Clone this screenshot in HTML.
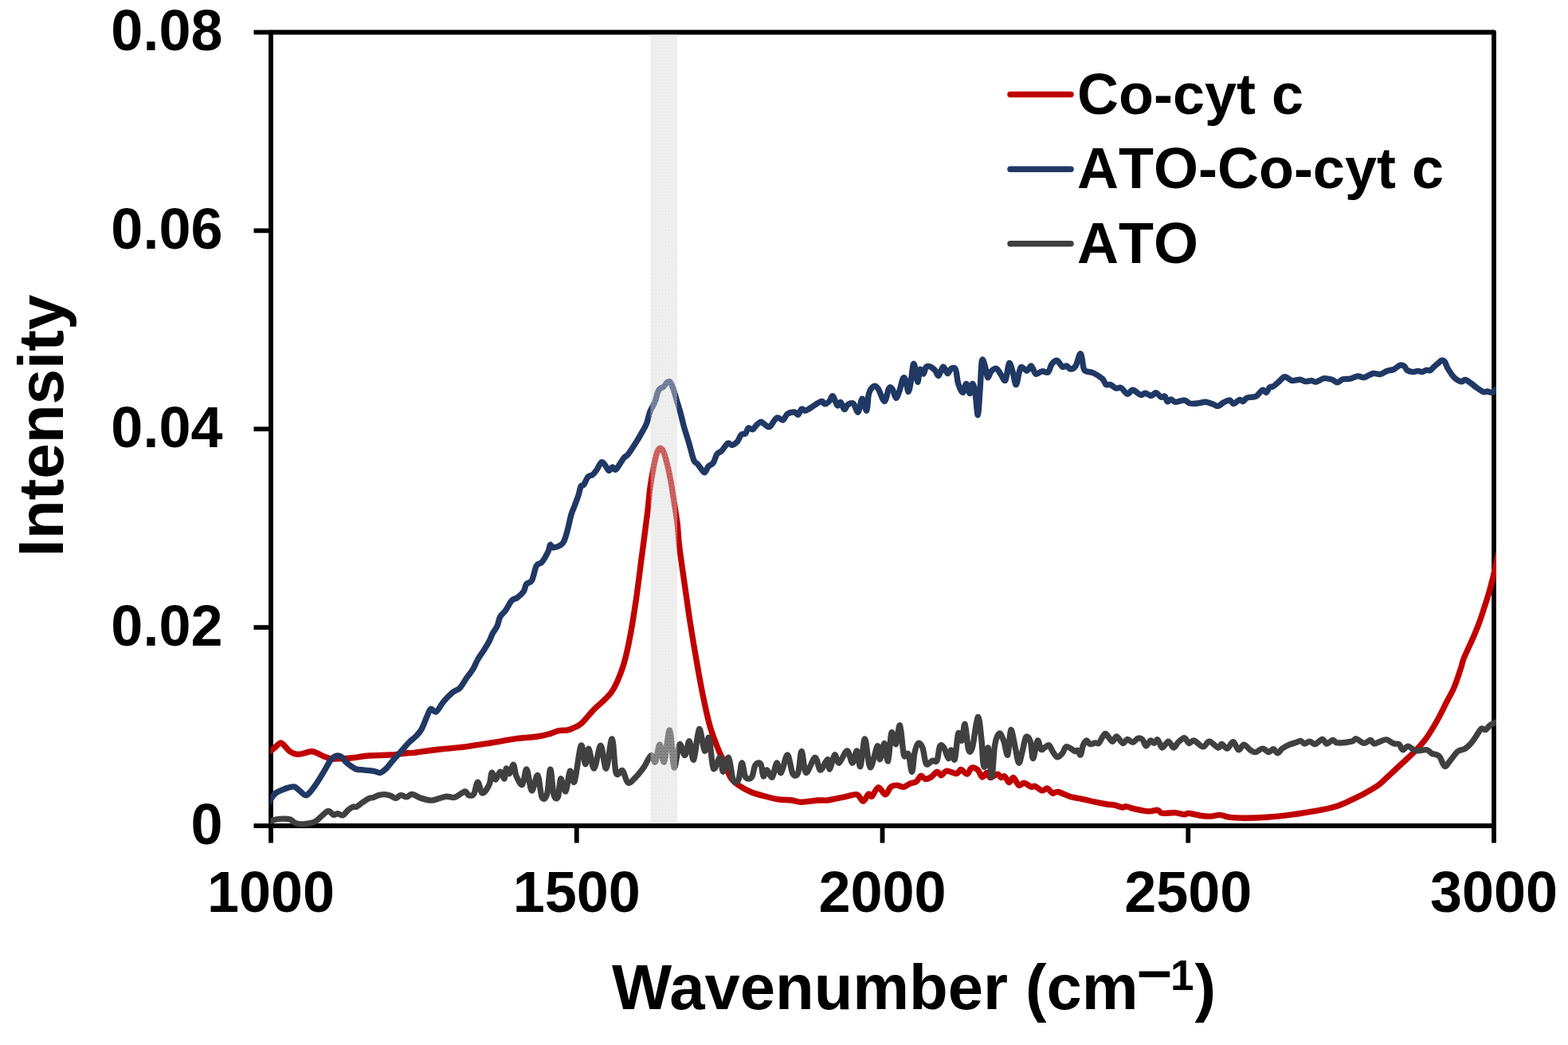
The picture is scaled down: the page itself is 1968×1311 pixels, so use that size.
<!DOCTYPE html><html><head><meta charset="utf-8"><title>Chart</title><style>html,body{margin:0;padding:0;background:#fff;}svg{display:block;}text{font-kerning:none;font-feature-settings:"kern" 0;}</style></head><body>
<svg width="1968" height="1311" viewBox="0 0 1968 1311">
<rect width="1968" height="1311" fill="#fff"/>
<defs><clipPath id="pc"><rect x="339.5" y="37.0" width="1538.5" height="1003.0"/></clipPath>
<pattern id="dots" width="4" height="4" patternUnits="userSpaceOnUse"><path d="M0 0H4V4H0ZM1 2H2V3H1Z" fill-rule="evenodd" fill="#d9d9d9" fill-opacity="0.30"/><path d="M0 0h1v1h-1zM2 0h1v1h-1zM1 1h1v1h-1zM3 1h1v1h-1zM0 2h1v1h-1zM2 2h1v1h-1zM1 3h1v1h-1zM3 3h1v1h-1z" fill="#d9d9d9" fill-opacity="0.46"/></pattern></defs>
<g fill="none" stroke="#000" stroke-width="5.80" stroke-linejoin="round">
<path d="M340.0 40.5 H1875.0 V1036.0 H340.0 Z"/>
<path d="M318.5 1036.00 H340.0" stroke-linecap="butt"/>
<path d="M318.5 787.12 H340.0" stroke-linecap="butt"/>
<path d="M318.5 538.25 H340.0" stroke-linecap="butt"/>
<path d="M318.5 289.38 H340.0" stroke-linecap="butt"/>
<path d="M318.5 40.50 H340.0" stroke-linecap="butt"/>
<path d="M340.00 1036.0 V1057.5" stroke-linecap="butt"/>
<path d="M723.75 1036.0 V1057.5" stroke-linecap="butt"/>
<path d="M1107.50 1036.0 V1057.5" stroke-linecap="butt"/>
<path d="M1491.25 1036.0 V1057.5" stroke-linecap="butt"/>
<path d="M1875.00 1036.0 V1057.5" stroke-linecap="butt"/>
</g>
<g fill="none" stroke-width="7.40" stroke-linejoin="round" stroke-linecap="round" clip-path="url(#pc)">
<path stroke="#C00000" d="M339.6 942.2C340.5 941.5 342.9 939.6 345.0 937.9C347.1 936.2 349.9 932.5 351.9 932.0C353.8 931.5 354.8 933.5 356.7 935.2C358.6 936.9 360.8 940.4 363.1 942.2C365.4 944.0 368.1 945.3 370.6 945.9C373.1 946.5 375.5 946.2 378.0 945.9C380.5 945.5 383.2 944.3 385.5 943.8C387.8 943.3 389.8 942.5 391.9 942.7C394.0 942.9 395.8 943.7 398.3 944.8C400.8 945.9 404.0 947.9 406.9 949.1C409.8 950.3 412.2 951.3 415.4 951.8C418.6 952.2 421.7 952.0 426.1 951.8C430.6 951.6 435.9 951.3 442.1 950.7C448.3 950.1 455.5 948.6 463.5 948.0C471.5 947.4 482.2 947.5 490.2 947.0C498.2 946.5 506.5 945.2 511.5 944.8C516.5 944.3 513.2 945.1 520.0 944.3C526.8 943.5 541.3 941.2 552.0 940.0C562.7 938.8 573.4 938.1 584.1 936.8C594.8 935.5 605.4 933.7 616.1 932.0C626.8 930.3 638.3 928.0 648.1 926.7C657.9 925.4 667.7 925.1 674.8 924.0C681.9 922.9 686.3 921.5 690.8 920.3C695.2 919.1 697.9 917.3 701.5 916.6C705.1 915.9 709.3 916.5 712.2 916.0C715.1 915.5 716.2 914.8 719.0 913.5C721.8 912.2 724.8 911.9 729.2 908.0C733.7 904.1 739.3 896.6 745.7 889.9C752.1 883.2 761.8 876.7 767.7 868.0C773.7 859.3 777.8 848.2 781.4 837.7C785.0 827.2 786.9 818.5 789.6 804.8C792.4 791.1 795.4 772.3 797.9 755.4C800.4 738.5 802.8 718.8 804.8 703.2C806.8 687.6 808.8 672.5 810.2 662.0C811.6 651.5 812.0 648.2 813.0 640.0C814.0 631.8 814.6 621.8 815.9 612.6C817.1 603.5 819.0 592.7 820.5 585.1C822.0 577.5 823.7 570.6 825.1 566.8C826.5 563.0 827.6 562.2 828.9 562.2C830.2 562.2 831.3 563.5 832.7 566.8C834.1 570.1 835.8 575.9 837.3 582.0C838.8 588.1 840.4 595.0 841.9 603.4C843.4 611.8 845.1 623.2 846.5 632.4C847.9 641.5 849.2 649.2 850.3 658.3C851.3 667.3 851.2 673.7 852.8 686.7C854.4 699.7 857.4 720.1 859.7 736.1C862.0 752.1 864.0 766.8 866.5 782.8C869.0 798.8 872.0 816.7 874.8 832.3C877.5 847.9 880.2 862.9 883.0 876.2C885.8 889.5 888.1 900.9 891.3 911.9C894.5 922.9 899.2 934.4 902.3 942.1C905.4 949.8 907.6 952.5 910.0 958.0C912.4 963.5 913.9 970.5 916.7 975.0C919.5 979.5 922.3 981.8 926.8 985.0C931.3 988.2 937.9 991.7 943.5 994.0C949.1 996.3 954.7 997.5 960.3 999.0C965.9 1000.5 971.5 1002.1 977.1 1002.9C982.7 1003.7 989.1 1003.4 993.8 1004.0C998.4 1004.6 1001.3 1006.1 1005.0 1006.3C1008.7 1006.5 1012.5 1005.5 1016.2 1005.1C1019.9 1004.7 1023.7 1004.2 1027.4 1004.0C1031.1 1003.8 1034.9 1004.4 1038.6 1004.0C1042.3 1003.6 1046.0 1002.5 1049.7 1001.8C1053.4 1001.1 1056.6 1000.4 1060.9 999.6C1065.2 998.8 1071.8 995.9 1075.5 996.8C1079.2 997.7 1080.9 1005.2 1083.3 1005.1C1085.7 1005.0 1088.1 997.2 1090.0 996.2C1091.9 995.2 1092.5 1000.4 1094.5 999.0C1096.5 997.6 1099.5 988.2 1102.3 987.8C1105.1 987.4 1108.6 996.9 1111.2 996.8C1113.8 996.7 1115.5 989.2 1117.9 987.3C1120.3 985.3 1122.8 985.1 1125.6 985.1C1128.4 985.1 1131.7 987.7 1134.5 987.3C1137.3 986.9 1139.8 984.0 1142.4 982.9C1145.0 981.8 1148.0 982.2 1150.2 980.6C1152.4 979.0 1153.9 973.8 1155.8 973.3C1157.7 972.8 1159.2 977.1 1161.4 977.3C1163.6 977.5 1166.8 976.0 1169.2 974.5C1171.6 973.0 1173.9 968.6 1175.9 968.3C1178.0 968.0 1179.5 973.0 1181.5 972.8C1183.5 972.6 1185.0 967.6 1188.2 967.2C1191.4 966.8 1197.5 970.9 1200.5 970.6C1203.5 970.3 1203.9 965.4 1206.1 965.5C1208.3 965.6 1211.7 971.5 1213.9 971.1C1216.1 970.7 1217.3 964.1 1219.5 963.3C1221.7 962.5 1225.1 964.1 1227.3 966.1C1229.5 968.1 1231.0 974.5 1232.9 975.0C1234.8 975.5 1236.8 969.3 1238.5 969.4C1240.2 969.5 1240.8 975.3 1243.0 975.6C1245.2 975.9 1249.7 971.1 1251.9 971.1C1254.1 971.1 1254.9 975.1 1256.4 975.6C1257.9 976.1 1259.2 972.9 1260.9 973.9C1262.6 974.9 1264.7 981.4 1266.5 981.7C1268.3 982.0 1270.0 975.0 1272.0 975.6C1274.0 976.2 1276.5 984.0 1278.7 985.1C1281.0 986.2 1282.9 981.9 1285.5 982.3C1288.1 982.7 1292.2 986.6 1294.4 987.3C1296.6 987.9 1296.7 985.5 1298.9 986.2C1301.1 987.0 1305.2 991.3 1307.8 991.8C1310.4 992.3 1312.3 988.5 1314.5 989.0C1316.7 989.5 1319.0 994.4 1321.2 995.1C1323.4 995.9 1324.2 992.8 1327.9 993.5C1331.6 994.2 1338.4 998.0 1343.4 999.5C1348.4 1001.0 1352.7 1001.2 1357.9 1002.3C1363.1 1003.4 1369.5 1005.1 1374.7 1006.2C1379.9 1007.3 1385.2 1008.4 1389.3 1009.0C1393.4 1009.6 1396.1 1009.5 1399.3 1010.1C1402.5 1010.8 1405.9 1012.6 1408.3 1012.9C1410.7 1013.2 1411.0 1011.4 1413.8 1011.8C1416.6 1012.2 1420.3 1014.1 1425.0 1015.1C1429.7 1016.1 1437.1 1017.7 1441.8 1017.9C1446.5 1018.1 1450.2 1015.9 1453.0 1016.3C1455.8 1016.7 1454.9 1019.7 1458.6 1020.2C1462.3 1020.8 1470.6 1019.3 1475.3 1019.6C1480.0 1019.9 1483.7 1021.8 1486.5 1021.9C1489.3 1022.0 1488.4 1019.9 1492.1 1020.2C1495.8 1020.5 1504.2 1022.9 1508.9 1023.5C1513.6 1024.2 1516.3 1024.3 1520.0 1024.1C1523.7 1023.9 1527.5 1022.2 1531.2 1022.4C1534.9 1022.6 1537.2 1024.5 1542.4 1025.2C1547.6 1025.9 1554.4 1026.3 1562.4 1026.3C1570.4 1026.3 1581.0 1025.9 1590.3 1025.2C1599.6 1024.5 1609.9 1023.4 1618.3 1022.4C1626.7 1021.4 1633.1 1020.3 1640.6 1019.1C1648.0 1017.9 1656.5 1016.5 1663.0 1015.1C1669.5 1013.7 1674.1 1012.7 1679.7 1010.7C1685.3 1008.8 1690.9 1006.0 1696.5 1003.4C1702.1 1000.8 1707.7 998.1 1713.3 995.0C1718.9 991.9 1725.5 988.1 1730.0 985.0C1734.5 981.9 1735.3 980.4 1740.0 976.1C1744.7 971.8 1752.2 964.7 1758.3 959.0C1764.4 953.3 1771.3 947.3 1776.6 941.8C1781.9 936.3 1785.7 932.2 1790.3 925.8C1794.9 919.4 1799.9 910.8 1804.0 903.5C1808.1 896.2 1811.5 888.9 1815.0 882.0C1818.5 875.1 1822.1 869.5 1825.2 862.1C1828.3 854.7 1831.7 843.8 1833.7 837.7C1835.7 831.6 1834.8 832.0 1837.4 825.5C1840.1 819.0 1846.3 806.1 1849.6 798.6C1852.8 791.1 1854.7 786.4 1856.9 780.3C1859.1 774.2 1861.0 768.3 1863.0 762.0C1865.0 755.7 1867.3 748.7 1869.1 742.4C1870.9 736.1 1872.5 730.1 1874.0 724.0C1875.5 717.9 1876.7 711.8 1878.0 706.0C1879.3 700.2 1881.3 691.8 1882.0 689.0"/>
<path stroke="#203864" d="M336.0 1010.0C336.6 1008.8 337.9 1005.5 339.6 1003.0C341.3 1000.5 343.5 997.0 346.0 995.0C348.5 993.0 351.9 991.9 354.6 990.8C357.3 989.6 359.5 988.7 362.0 988.1C364.5 987.5 367.4 986.5 369.5 987.0C371.6 987.5 372.5 989.0 374.8 990.8C377.1 992.6 380.9 997.4 383.4 997.7C385.9 998.1 387.3 995.6 389.8 992.9C392.3 990.1 395.5 985.5 398.3 981.2C401.1 976.9 404.2 971.8 406.9 967.3C409.6 962.8 412.1 957.6 414.4 954.5C416.7 951.4 418.5 949.5 420.8 948.6C423.1 947.7 425.9 947.8 428.2 949.1C430.5 950.4 431.8 954.1 434.6 956.6C437.5 959.1 442.3 962.6 445.3 964.1C448.3 965.6 448.9 965.2 452.8 965.7C456.7 966.2 464.7 966.7 468.8 967.3C472.9 967.9 474.7 969.9 477.4 969.4C480.1 968.9 481.8 967.1 484.8 964.1C487.8 961.1 491.9 955.4 495.5 951.3C499.1 947.2 503.2 942.9 506.2 939.5C509.2 936.1 511.0 933.7 513.7 931.0C516.4 928.3 519.6 926.2 522.2 923.5C524.8 920.8 526.9 918.8 529.2 914.6C531.5 910.5 534.1 902.8 536.0 898.6C537.9 894.4 538.7 890.4 540.6 889.4C542.5 888.4 544.8 894.4 547.5 892.9C550.2 891.4 553.2 884.3 556.6 880.3C560.0 876.3 564.6 871.7 568.0 868.8C571.4 865.9 574.1 866.3 577.2 863.1C580.3 859.9 583.7 853.2 586.4 849.4C589.1 845.6 590.9 844.0 593.2 840.2C595.5 836.4 597.8 830.5 600.1 826.5C602.4 822.5 604.7 819.8 607.0 816.2C609.3 812.6 611.9 808.4 613.8 804.8C615.7 801.2 616.7 797.8 618.4 794.5C620.1 791.2 622.6 788.7 624.1 785.3C625.6 781.9 625.9 777.1 627.6 773.9C629.3 770.7 631.9 769.3 634.4 765.9C636.9 762.5 639.9 756.0 642.4 753.3C644.9 750.6 646.8 751.7 649.3 749.8C651.8 747.9 655.4 744.6 657.3 741.8C659.2 738.9 659.0 735.0 660.7 732.7C662.4 730.4 665.5 731.9 667.6 728.1C669.7 724.3 671.2 713.6 673.3 709.8C675.4 706.0 677.7 708.2 680.2 705.2C682.7 702.2 686.5 695.1 688.2 691.5C689.9 687.9 689.4 684.3 690.5 683.5C691.6 682.7 692.4 687.3 695.1 686.9C697.8 686.5 703.6 684.8 706.5 681.2C709.4 677.6 710.5 671.1 712.2 665.2C713.9 659.4 715.3 651.3 716.8 646.1C718.3 640.9 719.9 638.0 721.4 633.9C722.9 629.8 724.6 625.6 725.9 621.7C727.2 617.8 727.9 612.6 729.0 610.3C730.1 608.0 731.3 610.0 732.8 608.0C734.3 606.0 736.3 600.1 738.1 598.1C739.9 596.1 741.7 597.2 743.5 595.8C745.3 594.4 746.9 592.4 748.8 589.7C750.7 587.0 753.1 580.8 754.9 579.8C756.7 578.8 758.0 581.8 759.5 583.6C761.0 585.4 762.6 590.0 764.1 590.4C765.6 590.8 767.1 586.1 768.6 585.9C770.1 585.6 770.9 590.7 773.2 588.9C775.5 587.1 779.9 578.4 782.4 575.2C784.9 572.0 786.0 573.0 788.5 569.8C791.0 566.6 794.8 560.5 797.6 556.1C800.4 551.7 803.0 547.2 805.3 543.1C807.6 539.0 809.6 536.2 811.4 531.7C813.2 527.2 814.1 521.0 815.9 516.4C817.7 511.8 820.2 508.6 822.0 504.2C823.8 499.8 824.8 492.9 826.6 489.7C828.4 486.5 830.9 486.8 832.7 485.2C834.5 483.6 835.9 480.8 837.3 479.8C838.7 478.8 839.8 477.8 841.1 479.1C842.4 480.4 843.5 483.6 844.9 487.5C846.3 491.4 848.0 497.6 849.5 502.7C851.0 507.8 852.6 512.4 854.1 518.0C855.6 523.6 856.9 529.9 858.7 536.3C860.5 542.6 862.8 549.2 864.8 556.1C866.8 563.0 869.1 573.2 870.9 577.5C872.7 581.8 873.9 580.2 875.4 582.0C876.9 583.8 878.5 586.3 880.0 588.1C881.5 589.9 883.1 593.2 884.6 592.7C886.1 592.2 887.4 587.1 889.2 585.1C891.0 583.1 893.5 583.0 895.3 580.5C897.1 578.0 898.0 572.3 899.8 569.8C901.6 567.3 903.6 567.6 905.9 565.3C908.2 563.0 911.4 557.3 913.6 556.1C915.8 554.9 916.9 558.7 918.9 558.3C920.9 557.9 923.8 555.9 925.7 553.8C927.6 551.7 928.4 547.2 930.1 545.5C931.8 543.8 934.2 545.2 935.7 543.8C937.2 542.4 937.6 537.9 939.1 537.1C940.6 536.3 943.0 539.4 944.7 538.8C946.4 538.2 947.4 535.3 949.1 533.7C950.8 532.1 953.0 529.6 954.7 529.3C956.4 529.0 957.3 531.0 959.2 532.0C961.1 533.0 963.3 536.7 965.9 535.4C968.5 534.1 972.0 525.6 974.8 524.2C977.6 522.8 980.5 527.8 982.7 527.0C985.0 526.2 985.9 520.9 988.3 519.2C990.7 517.5 995.0 516.8 997.2 517.0C999.4 517.2 1000.2 521.0 1001.7 520.3C1003.2 519.6 1004.6 513.8 1006.1 513.0C1007.6 512.2 1008.9 515.4 1010.6 515.3C1012.3 515.2 1013.6 514.1 1016.2 512.5C1018.8 510.9 1023.7 507.3 1026.3 505.8C1028.9 504.3 1030.4 503.3 1031.9 503.5C1033.4 503.7 1033.7 506.9 1035.2 506.9C1036.7 506.9 1039.1 505.2 1040.8 503.5C1042.5 501.8 1043.6 495.9 1045.3 496.8C1047.0 497.7 1049.2 507.3 1050.9 508.6C1052.6 509.9 1053.8 503.9 1055.3 504.7C1056.8 505.5 1058.3 513.1 1059.8 513.6C1061.3 514.1 1062.4 508.7 1064.3 507.5C1066.2 506.3 1068.9 504.7 1071.0 506.3C1073.1 507.9 1075.2 518.0 1077.1 517.0C1079.0 516.0 1080.4 500.5 1082.2 500.2C1084.0 499.9 1086.4 516.3 1087.8 515.3C1089.2 514.3 1089.0 499.1 1090.5 494.0C1092.0 488.9 1094.7 485.5 1096.7 484.5C1098.7 483.5 1100.1 484.7 1102.3 487.9C1104.5 491.1 1107.9 503.6 1110.1 503.5C1112.3 503.4 1114.0 489.9 1115.7 487.3C1117.4 484.7 1118.5 486.1 1120.0 488.1C1121.5 490.1 1123.0 498.9 1124.5 499.3C1126.0 499.7 1127.4 494.5 1128.9 490.4C1130.4 486.3 1132.1 476.9 1133.4 474.7C1134.7 472.5 1135.7 474.2 1136.8 477.0C1137.9 479.8 1139.0 491.5 1140.1 491.5C1141.2 491.5 1142.5 482.8 1143.5 477.0C1144.5 471.2 1145.4 459.1 1146.3 456.8C1147.2 454.6 1148.2 459.8 1149.1 463.5C1150.0 467.2 1151.0 479.2 1151.9 479.2C1152.8 479.2 1153.5 465.2 1154.7 463.5C1155.9 461.8 1157.8 469.7 1159.1 469.1C1160.4 468.6 1161.0 461.7 1162.5 460.2C1164.0 458.7 1166.2 459.4 1168.1 460.2C1170.0 460.9 1172.0 462.8 1173.7 464.7C1175.4 466.6 1176.4 472.1 1178.1 471.4C1179.8 470.6 1181.8 460.7 1183.7 460.2C1185.6 459.7 1187.6 468.2 1189.3 468.6C1191.0 469.0 1192.1 463.2 1193.8 462.4C1195.5 461.5 1197.9 460.3 1199.4 463.5C1200.9 466.7 1201.2 476.5 1202.7 481.4C1204.2 486.2 1206.6 492.6 1208.3 492.6C1210.0 492.6 1211.3 481.2 1212.8 481.4C1214.3 481.6 1216.0 493.7 1217.3 493.7C1218.6 493.7 1219.5 481.6 1220.6 481.4C1221.7 481.2 1222.9 486.1 1224.0 492.6C1225.1 499.1 1226.3 521.4 1227.3 520.6C1228.3 519.9 1229.2 499.5 1230.1 488.1C1230.9 476.7 1231.4 457.2 1232.4 452.4C1233.4 447.6 1235.1 455.6 1236.3 459.1C1237.5 462.6 1238.3 472.5 1239.6 473.6C1240.9 474.7 1242.2 467.7 1244.1 465.8C1246.0 463.9 1248.8 461.7 1250.8 462.4C1252.8 463.1 1254.5 467.8 1256.4 470.2C1258.3 472.6 1260.3 479.4 1262.0 477.0C1263.7 474.6 1265.0 457.6 1266.5 455.7C1268.0 453.8 1269.4 461.3 1270.9 465.8C1272.4 470.3 1273.7 483.2 1275.4 482.5C1277.1 481.8 1278.8 464.2 1281.0 461.3C1283.2 458.4 1286.6 465.6 1288.8 465.2C1291.0 464.8 1292.5 458.5 1294.4 459.1C1296.3 459.8 1297.8 468.0 1300.0 469.1C1302.2 470.2 1305.2 466.2 1307.8 465.8C1310.4 465.4 1313.5 468.4 1315.6 466.9C1317.6 465.4 1318.2 459.2 1320.1 456.8C1322.0 454.4 1324.6 451.8 1326.8 452.4C1329.0 453.0 1331.4 459.1 1333.4 460.2C1335.4 461.3 1337.2 458.6 1338.9 459.1C1340.6 459.6 1341.5 463.0 1343.4 463.0C1345.3 463.0 1348.0 462.3 1350.1 459.1C1352.2 455.9 1354.5 443.2 1356.2 443.8C1357.9 444.4 1359.0 458.7 1360.2 462.4C1361.4 466.1 1361.5 464.9 1363.5 465.8C1365.5 466.7 1369.1 466.4 1372.5 468.0C1375.9 469.6 1381.1 472.9 1383.7 475.3C1386.3 477.7 1386.4 481.3 1388.1 482.5C1389.8 483.7 1391.7 481.8 1393.7 482.5C1395.8 483.2 1398.2 486.3 1400.4 487.0C1402.6 487.7 1404.7 485.3 1407.1 486.5C1409.5 487.7 1412.6 493.8 1415.0 494.3C1417.4 494.8 1418.9 489.1 1421.7 489.3C1424.5 489.5 1429.1 494.8 1431.7 495.4C1434.3 496.0 1435.1 493.0 1437.3 493.2C1439.5 493.4 1442.9 496.6 1445.1 496.5C1447.3 496.4 1448.7 492.3 1450.7 492.6C1452.8 492.9 1455.5 497.4 1457.4 498.2C1459.3 498.9 1460.6 496.2 1461.9 497.1C1463.2 498.0 1464.0 503.2 1465.3 503.8C1466.6 504.4 1468.0 500.9 1469.7 501.0C1471.4 501.1 1472.5 504.1 1475.3 504.3C1478.1 504.5 1483.5 501.8 1486.5 502.1C1489.5 502.4 1490.4 505.4 1493.2 506.0C1496.0 506.6 1500.0 506.3 1503.3 506.0C1506.6 505.7 1510.1 504.1 1513.3 504.3C1516.5 504.5 1519.7 506.2 1522.3 507.1C1524.9 508.0 1526.8 509.8 1529.0 509.4C1531.2 509.0 1533.3 506.1 1535.7 504.9C1538.1 503.7 1541.3 501.7 1543.4 502.0C1545.5 502.3 1546.4 506.6 1548.4 506.5C1550.5 506.4 1553.8 502.0 1555.7 501.5C1557.7 501.0 1558.6 504.1 1560.1 503.7C1561.6 503.3 1562.7 500.2 1564.6 499.3C1566.5 498.4 1569.2 498.5 1571.3 498.1C1573.3 497.7 1574.7 498.5 1576.9 497.0C1579.1 495.5 1582.7 489.9 1584.7 489.2C1586.8 488.4 1587.7 493.1 1589.2 492.5C1590.7 491.9 1592.2 487.1 1593.7 485.8C1595.2 484.5 1596.2 485.8 1598.1 484.7C1599.9 483.6 1602.6 481.1 1604.8 479.1C1607.0 477.2 1609.6 473.8 1611.5 473.0C1613.4 472.2 1614.3 473.4 1616.0 474.1C1617.7 474.9 1619.0 477.1 1621.6 477.5C1624.2 477.9 1628.9 476.1 1631.7 476.3C1634.5 476.5 1636.0 478.4 1638.4 478.6C1640.8 478.8 1644.0 477.4 1646.2 477.5C1648.4 477.6 1649.2 479.6 1651.8 479.1C1654.4 478.6 1658.6 475.2 1661.9 474.7C1665.2 474.2 1669.1 475.5 1671.9 476.3C1674.7 477.1 1676.4 479.8 1678.6 479.7C1680.8 479.6 1682.7 476.6 1685.3 475.8C1687.9 475.1 1691.1 475.9 1694.3 475.2C1697.5 474.5 1701.3 472.2 1704.3 471.9C1707.3 471.6 1709.0 474.1 1712.2 473.5C1715.4 472.9 1720.0 469.1 1723.3 468.5C1726.6 467.9 1729.3 470.2 1732.3 469.6C1735.3 469.1 1738.4 466.2 1741.2 465.2C1744.0 464.2 1746.4 464.7 1749.1 463.5C1751.8 462.3 1755.2 458.8 1757.5 458.2C1759.8 457.6 1761.5 458.7 1762.9 459.7C1764.3 460.7 1764.1 463.1 1765.9 464.3C1767.7 465.5 1771.2 466.4 1773.5 466.6C1775.8 466.8 1777.7 465.4 1779.6 465.4C1781.5 465.4 1783.2 466.8 1785.0 466.6C1786.8 466.4 1788.6 464.6 1790.3 464.3C1792.0 464.0 1793.2 465.5 1794.9 464.7C1796.6 463.9 1798.6 461.2 1800.2 459.7C1801.8 458.2 1803.3 457.2 1804.8 455.9C1806.3 454.6 1808.0 452.5 1809.4 452.1C1810.8 451.7 1811.9 452.0 1813.2 453.6C1814.5 455.2 1815.3 459.1 1817.0 462.0C1818.7 464.9 1821.3 468.9 1823.1 471.2C1824.9 473.5 1825.8 474.4 1827.7 475.7C1829.6 477.0 1832.6 478.7 1834.5 478.8C1836.4 478.9 1837.1 476.1 1839.1 476.5C1841.1 476.9 1844.4 479.5 1846.7 481.1C1849.0 482.7 1850.2 484.2 1852.8 486.0C1855.3 487.8 1859.7 490.9 1862.0 491.7C1864.3 492.5 1864.7 490.9 1866.5 491.0C1868.3 491.1 1870.9 492.8 1872.6 492.5C1874.2 492.2 1875.2 490.4 1876.4 489.5C1877.6 488.6 1879.4 487.4 1880.0 487.0"/>
<path stroke="#404040" d="M339.6 1030.3C340.7 1029.9 343.3 1028.6 346.0 1028.1C348.7 1027.6 352.6 1027.1 355.6 1027.1C358.6 1027.1 361.7 1027.2 364.2 1028.1C366.7 1029.0 368.1 1031.4 370.6 1032.4C373.1 1033.4 376.2 1033.9 379.1 1034.0C382.0 1034.1 384.9 1033.5 387.7 1032.9C390.5 1032.3 393.4 1032.0 396.2 1030.3C399.0 1028.6 402.0 1024.9 404.7 1022.8C407.4 1020.7 409.9 1017.6 412.2 1017.5C414.5 1017.4 416.6 1021.8 418.6 1022.3C420.6 1022.8 422.0 1020.6 424.0 1020.7C426.0 1020.8 428.3 1023.5 430.4 1022.8C432.5 1022.1 434.7 1018.2 436.8 1016.4C438.9 1014.6 441.4 1012.8 443.2 1012.1C445.0 1011.4 445.6 1013.0 447.5 1012.1C449.4 1011.2 452.4 1008.5 454.9 1006.8C457.4 1005.1 460.1 1003.1 462.4 1002.0C464.7 1000.9 466.7 1001.1 468.8 1000.4C470.9 999.7 472.9 998.3 475.2 997.7C477.5 997.1 480.2 996.5 482.7 996.6C485.2 996.7 487.9 997.4 490.2 998.2C492.5 999.0 494.5 1001.5 496.6 1001.4C498.7 1001.3 500.7 998.0 503.0 997.7C505.3 997.4 508.4 1000.0 510.5 999.8C512.6 999.6 514.2 997.0 515.8 996.6C517.4 996.2 517.9 996.4 520.0 997.2C522.1 998.0 524.9 1000.2 528.5 1001.4C532.1 1002.5 537.5 1004.1 541.4 1004.1C545.3 1004.1 548.8 1002.2 552.0 1001.4C555.2 1000.6 557.6 999.5 560.6 999.3C563.6 999.1 567.4 1000.9 570.2 1000.4C573.1 999.9 575.4 997.4 577.7 996.1C580.0 994.9 582.3 992.6 584.1 992.9C585.9 993.2 586.5 997.2 588.3 997.7C590.1 998.2 592.8 998.9 594.7 996.1C596.6 993.4 597.8 981.4 599.6 981.2C601.4 981.0 603.0 994.5 605.4 995.0C607.8 995.5 612.0 988.7 614.0 984.4C616.0 980.1 615.9 970.5 617.2 969.4C618.5 968.3 620.2 978.2 622.0 978.0C623.8 977.8 625.9 968.5 627.8 968.3C629.7 968.1 632.0 977.6 633.2 976.9C634.5 976.2 634.2 965.2 635.3 964.1C636.4 963.0 638.1 971.3 639.6 970.5C641.1 969.7 643.0 958.8 644.4 959.3C645.8 959.8 646.2 969.5 648.1 973.7C650.0 977.9 653.5 985.8 655.6 984.4C657.8 983.0 659.0 963.9 661.0 965.1C663.0 966.3 665.1 990.5 667.4 991.8C669.7 993.0 672.7 971.2 674.8 972.6C676.9 974.0 678.2 996.5 680.2 1000.4C682.2 1004.3 684.8 1002.0 686.6 996.1C688.4 990.2 689.4 964.9 690.8 965.1C692.2 965.3 693.5 991.5 695.1 997.2C696.7 1002.9 699.1 1002.7 700.5 999.3C701.9 995.9 702.1 978.0 703.7 976.9C705.3 975.8 708.2 994.5 710.1 992.9C712.0 991.3 713.6 969.3 715.4 967.3C717.2 965.2 718.7 985.9 721.0 980.6C723.3 975.3 726.9 939.0 729.2 935.3C731.5 931.6 733.1 957.9 734.7 958.6C736.3 959.3 737.0 938.5 738.8 939.4C740.6 940.3 743.2 964.8 745.7 964.1C748.2 963.4 751.4 935.3 753.9 935.3C756.4 935.3 758.4 965.5 760.8 964.1C763.2 962.7 766.1 926.1 768.2 927.0C770.3 927.9 771.0 963.0 773.2 969.6C775.4 976.2 778.9 964.7 781.4 966.8C783.9 968.9 785.5 980.6 788.3 982.0C791.0 983.4 794.5 978.6 797.9 975.1C801.3 971.6 805.7 965.9 808.9 961.3C812.1 956.7 814.8 948.5 817.1 947.6C819.4 946.7 820.8 958.1 822.6 955.8C824.4 953.5 826.3 933.9 828.1 933.9C829.9 933.9 831.5 958.8 833.6 955.8C835.7 952.8 838.4 914.9 840.5 916.0C842.6 917.1 844.0 959.7 846.0 962.7C848.0 965.7 850.5 936.4 852.8 933.9C855.1 931.4 857.6 948.3 859.7 947.6C861.8 946.9 863.4 928.9 865.2 929.8C867.0 930.7 868.7 955.6 870.7 953.1C872.8 950.6 875.2 916.4 877.5 914.6C879.8 912.8 882.3 940.3 884.4 942.1C886.5 943.9 888.1 921.9 889.9 925.6C891.7 929.3 893.1 960.0 895.4 964.1C897.7 968.2 901.5 949.6 903.6 950.3C905.7 951.0 905.9 968.2 907.7 968.2C909.5 968.2 912.4 948.7 914.5 950.4C916.6 952.1 918.1 973.6 920.1 978.3C922.1 982.9 924.9 981.8 926.8 978.3C928.6 974.8 929.7 957.6 931.2 957.1C932.7 956.6 933.7 972.0 935.7 975.0C937.8 978.0 941.5 977.5 943.5 975.0C945.5 972.5 946.1 962.7 948.0 959.9C949.9 957.1 953.0 955.9 954.7 958.2C956.4 960.5 956.8 972.5 958.1 973.8C959.4 975.1 960.6 965.8 962.5 966.0C964.4 966.2 967.2 976.5 969.3 975.0C971.3 973.5 972.9 958.0 974.8 957.1C976.6 956.2 978.1 971.1 980.4 969.4C982.6 967.7 985.9 946.8 988.3 947.0C990.7 947.2 992.8 966.8 995.0 970.5C997.2 974.2 999.9 974.1 1001.7 969.4C1003.6 964.7 1004.4 942.5 1006.1 942.5C1007.8 942.5 1008.9 968.1 1011.7 969.4C1014.5 970.7 1019.9 951.0 1022.9 950.4C1025.9 949.8 1027.0 965.6 1029.6 966.0C1032.2 966.4 1036.6 952.8 1038.6 952.6C1040.6 952.4 1039.9 965.8 1041.4 964.9C1042.9 964.0 1045.5 948.3 1047.5 947.0C1049.5 945.7 1050.5 957.9 1053.1 957.1C1055.7 956.3 1060.4 942.0 1063.2 942.0C1066.0 942.0 1067.9 957.1 1069.9 957.1C1072.0 957.1 1073.8 941.3 1075.5 942.0C1077.2 942.7 1078.2 964.0 1079.9 961.5C1081.6 959.0 1083.5 926.7 1085.5 926.9C1087.5 927.1 1089.6 961.2 1092.2 962.7C1094.8 964.2 1099.2 937.5 1101.2 935.8C1103.2 934.1 1103.0 953.1 1104.5 952.6C1106.0 952.1 1108.4 932.1 1110.1 932.5C1111.8 932.9 1113.1 957.0 1114.6 954.8C1116.1 952.6 1117.3 922.6 1119.0 919.1C1120.7 915.6 1122.8 935.1 1124.6 933.6C1126.3 932.1 1127.8 907.8 1129.5 910.0C1131.2 912.2 1132.7 941.1 1134.5 947.1C1136.3 953.1 1138.4 942.5 1140.1 946.0C1141.8 949.5 1143.3 968.5 1144.6 968.3C1145.9 968.1 1146.6 950.8 1147.9 944.8C1149.2 938.8 1150.7 933.6 1152.4 932.5C1154.1 931.4 1156.3 933.8 1158.0 938.1C1159.7 942.4 1160.5 955.6 1162.5 958.3C1164.5 961.0 1168.1 955.0 1170.3 954.3C1172.5 953.6 1174.3 957.4 1175.9 954.3C1177.5 951.2 1178.3 938.6 1179.8 935.9C1181.3 933.2 1183.0 935.5 1184.8 938.1C1186.6 940.7 1188.9 951.0 1190.4 951.5C1191.9 952.0 1192.5 940.7 1193.8 940.9C1195.1 941.1 1196.8 956.2 1198.3 952.7C1199.8 949.2 1201.2 924.1 1202.7 920.2C1204.2 916.3 1205.8 931.2 1207.2 929.2C1208.6 927.2 1209.7 906.6 1211.1 908.5C1212.5 910.4 1214.0 935.6 1215.6 940.4C1217.2 945.1 1218.6 943.8 1220.6 937.0C1222.5 930.2 1225.4 901.3 1227.3 899.6C1229.2 897.9 1230.7 917.4 1231.8 927.0C1232.9 936.6 1233.2 951.5 1234.0 957.1C1234.8 962.7 1235.3 963.7 1236.3 960.5C1237.3 957.3 1238.8 935.7 1240.2 938.1C1241.6 940.5 1243.3 975.5 1244.7 975.0C1246.1 974.5 1247.0 943.9 1248.6 934.8C1250.2 925.7 1252.3 921.1 1254.2 920.2C1256.1 919.3 1257.9 924.7 1259.7 929.2C1261.5 933.7 1263.3 949.3 1264.8 947.1C1266.3 944.9 1267.1 917.3 1268.7 915.8C1270.3 914.3 1272.6 931.2 1274.3 938.1C1276.0 945.0 1277.2 956.4 1278.7 957.1C1280.2 957.9 1281.7 948.0 1283.2 942.6C1284.7 937.2 1286.0 926.8 1287.7 924.7C1289.4 922.7 1291.8 925.8 1293.3 930.3C1294.8 934.8 1295.1 951.7 1296.6 951.5C1298.1 951.3 1300.5 931.1 1302.2 929.2C1303.9 927.4 1305.0 939.1 1306.7 940.4C1308.4 941.7 1310.6 937.9 1312.3 937.0C1314.0 936.1 1315.3 933.9 1316.8 934.8C1318.3 935.7 1319.5 940.1 1321.2 942.6C1322.9 945.1 1324.8 949.5 1326.8 949.9C1328.8 950.3 1331.7 947.0 1333.5 944.8C1335.3 942.6 1336.1 937.9 1337.8 936.9C1339.5 935.9 1341.5 937.7 1343.4 938.6C1345.3 939.5 1347.5 942.0 1349.0 942.5C1350.5 943.0 1351.2 940.6 1352.4 941.4C1353.6 942.1 1355.2 947.9 1356.3 947.0C1357.4 946.1 1357.9 938.8 1359.1 935.8C1360.3 932.8 1362.0 929.5 1363.5 929.1C1365.0 928.7 1366.1 933.0 1368.0 933.5C1369.9 934.0 1372.8 932.1 1374.7 931.9C1376.6 931.7 1377.7 933.6 1379.2 932.4C1380.7 931.2 1382.2 926.5 1383.7 924.6C1385.2 922.7 1386.0 919.8 1388.1 920.7C1390.1 921.6 1393.8 929.7 1396.0 930.2C1398.2 930.8 1399.3 923.6 1401.5 924.0C1403.7 924.4 1407.2 931.8 1409.4 932.4C1411.7 933.0 1413.0 927.6 1415.0 927.4C1417.0 927.2 1419.5 931.5 1421.7 931.3C1423.9 931.1 1426.4 926.9 1428.4 926.3C1430.5 925.7 1432.3 926.3 1434.0 927.9C1435.7 929.5 1436.7 935.6 1438.4 935.8C1440.1 936.0 1442.3 929.7 1444.0 929.1C1445.7 928.5 1447.0 932.6 1448.5 932.4C1450.0 932.2 1451.3 927.0 1453.0 927.9C1454.7 928.8 1456.4 937.6 1458.6 938.0C1460.8 938.4 1464.0 930.2 1466.4 930.2C1468.8 930.2 1471.0 937.8 1473.1 938.0C1475.1 938.2 1476.5 933.3 1478.7 931.3C1480.9 929.2 1484.3 925.5 1486.5 925.7C1488.7 925.9 1490.0 931.8 1492.1 932.4C1494.1 933.0 1495.8 928.4 1498.8 929.1C1501.8 929.9 1506.8 936.7 1510.0 936.9C1513.2 937.1 1514.6 930.0 1517.8 930.2C1521.0 930.4 1526.4 937.5 1529.0 938.0C1531.6 938.5 1531.6 933.3 1533.5 933.5C1535.4 933.7 1537.8 939.6 1540.2 939.1C1542.6 938.6 1545.4 930.4 1547.8 930.7C1550.2 931.0 1552.3 940.2 1554.5 940.8C1556.7 941.4 1558.8 934.1 1561.2 934.1C1563.6 934.1 1566.7 939.2 1569.1 940.8C1571.5 942.4 1573.2 943.9 1575.8 943.6C1578.4 943.3 1581.9 939.1 1584.7 939.1C1587.5 939.1 1590.3 943.5 1592.5 943.6C1594.7 943.7 1596.2 939.5 1598.1 939.7C1600.0 939.9 1601.8 944.8 1603.7 944.7C1605.6 944.6 1606.9 940.9 1609.3 939.1C1611.7 937.3 1615.3 935.4 1618.3 934.1C1621.3 932.8 1624.8 932.0 1627.2 931.3C1629.6 930.5 1631.1 929.3 1632.8 929.6C1634.5 929.9 1635.4 932.9 1637.3 933.0C1639.2 933.1 1641.8 930.1 1644.0 930.2C1646.2 930.3 1648.1 934.0 1650.7 933.5C1653.3 933.0 1657.2 927.5 1659.6 927.4C1662.0 927.3 1663.0 932.8 1665.2 933.0C1667.4 933.2 1670.8 928.7 1673.0 928.5C1675.2 928.3 1674.7 931.6 1678.6 931.9C1682.5 932.2 1692.6 931.1 1696.5 930.2C1700.4 929.4 1699.5 926.4 1702.1 926.8C1704.7 927.2 1709.2 932.1 1712.2 932.4C1715.2 932.7 1718.0 928.4 1720.0 928.5C1722.0 928.6 1722.5 932.7 1724.5 933.0C1726.5 933.3 1729.7 931.1 1732.3 930.2C1734.9 929.4 1737.3 927.5 1740.1 927.9C1742.9 928.3 1746.4 931.7 1749.1 932.7C1751.8 933.7 1754.1 932.5 1756.0 933.8C1757.9 935.1 1758.7 940.3 1760.6 940.7C1762.5 941.1 1764.7 935.9 1767.4 936.1C1770.1 936.3 1772.8 941.0 1776.6 941.8C1780.4 942.6 1786.9 940.1 1790.3 940.7C1793.7 941.3 1794.5 944.0 1797.2 945.3C1799.9 946.6 1803.6 946.0 1806.3 948.7C1809.0 951.4 1810.9 960.3 1813.2 961.3C1815.5 962.2 1817.3 957.4 1820.0 954.4C1822.7 951.4 1826.2 945.5 1829.2 943.0C1832.2 940.5 1835.6 941.0 1838.3 939.5C1841.0 938.0 1842.9 936.3 1845.2 933.8C1847.5 931.3 1849.7 927.9 1852.0 924.7C1854.3 921.5 1856.8 915.9 1858.9 914.4C1861.0 912.9 1862.7 916.3 1864.6 915.5C1866.5 914.7 1868.2 911.3 1870.3 909.8C1872.4 908.3 1875.6 907.2 1877.2 906.4C1878.8 905.6 1879.5 905.2 1880.0 905.0"/>
</g>
<rect x="816.5" y="43.4" width="33.5" height="989.7" fill="url(#dots)"/>
<text transform="translate(279.50 1058.80) scale(1.0000 1.012)" font-size="72" text-anchor="end" font-family="'Liberation Sans', Arial, sans-serif" font-weight="bold">0</text>
<text transform="translate(279.50 809.92) scale(1.0000 1.012)" font-size="72" text-anchor="end" font-family="'Liberation Sans', Arial, sans-serif" font-weight="bold">0.02</text>
<text transform="translate(279.50 561.05) scale(1.0000 1.012)" font-size="72" text-anchor="end" font-family="'Liberation Sans', Arial, sans-serif" font-weight="bold">0.04</text>
<text transform="translate(279.50 312.18) scale(1.0000 1.012)" font-size="72" text-anchor="end" font-family="'Liberation Sans', Arial, sans-serif" font-weight="bold">0.06</text>
<text transform="translate(279.50 63.30) scale(1.0000 1.012)" font-size="72" text-anchor="end" font-family="'Liberation Sans', Arial, sans-serif" font-weight="bold">0.08</text>
<text transform="translate(340.00 1144.00) scale(1.0000 1.012)" font-size="72" text-anchor="middle" font-family="'Liberation Sans', Arial, sans-serif" font-weight="bold">1000</text>
<text transform="translate(723.75 1144.00) scale(1.0000 1.012)" font-size="72" text-anchor="middle" font-family="'Liberation Sans', Arial, sans-serif" font-weight="bold">1500</text>
<text transform="translate(1107.50 1144.00) scale(1.0000 1.012)" font-size="72" text-anchor="middle" font-family="'Liberation Sans', Arial, sans-serif" font-weight="bold">2000</text>
<text transform="translate(1491.25 1144.00) scale(1.0000 1.012)" font-size="72" text-anchor="middle" font-family="'Liberation Sans', Arial, sans-serif" font-weight="bold">2500</text>
<text transform="translate(1875.00 1144.00) scale(1.0000 1.012)" font-size="72" text-anchor="middle" font-family="'Liberation Sans', Arial, sans-serif" font-weight="bold">3000</text>
<text transform="translate(79.00 534.00) rotate(-90) scale(1 1.000)" font-size="80" text-anchor="middle" font-family="'Liberation Sans', Arial, sans-serif" font-weight="bold">Intensity</text>
<text transform="translate(768.00 1266.00) scale(0.9953 1.000)" font-size="80" font-family="'Liberation Sans', Arial, sans-serif" font-weight="bold" style="font-kerning:normal;font-feature-settings:normal">Wavenumber (cm</text>
<text transform="translate(1426.50 1245.00) scale(0.960 0.860)" font-size="80" font-family="'Liberation Sans', Arial, sans-serif" font-weight="bold">&#8722;</text>
<text transform="translate(1469.00 1241.70) scale(1.0000 1.000)" font-size="53" font-family="'Liberation Sans', Arial, sans-serif" font-weight="bold">1</text>
<text transform="translate(1499.50 1266.00) scale(1.0000 1.000)" font-size="80" font-family="'Liberation Sans', Arial, sans-serif" font-weight="bold">)</text>
<path d="M1268.0 118.6 H1344.0" stroke="#C00000" stroke-width="7.50" stroke-linecap="round"/>
<text transform="translate(1352.00 142.60) scale(1.0000 1.015)" font-size="72" font-family="'Liberation Sans', Arial, sans-serif" font-weight="bold">Co-cyt c</text>
<path d="M1268.0 212.2 H1344.0" stroke="#203864" stroke-width="7.50" stroke-linecap="round"/>
<text transform="translate(1352.00 236.20) scale(1.0000 1.015)" font-size="72" font-family="'Liberation Sans', Arial, sans-serif" font-weight="bold">ATO-Co-cyt c</text>
<path d="M1268.0 305.8 H1344.0" stroke="#404040" stroke-width="7.50" stroke-linecap="round"/>
<text transform="translate(1352.00 329.80) scale(1.0000 1.015)" font-size="72" font-family="'Liberation Sans', Arial, sans-serif" font-weight="bold">ATO</text>
</svg></body></html>
